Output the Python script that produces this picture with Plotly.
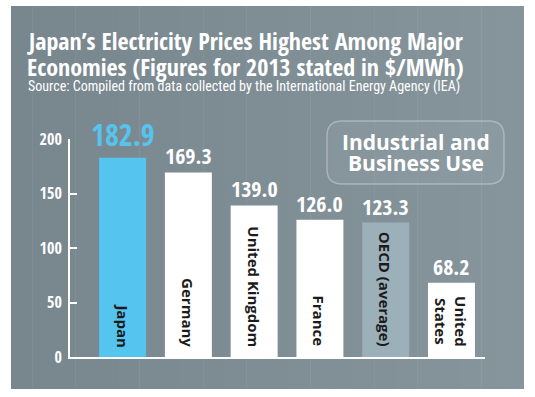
import plotly.graph_objects as go

# ---- data ----
categories = ["Japan", "Germany", "United Kingdom", "France", "OECD (average)", "United<br>States"]
values = [182.9, 169.3, 139.0, 126.0, 123.3, 68.2]
value_labels = ["182.9", "169.3", "139.0", "126.0", "123.3", "68.2"]
y_ticks = [0, 50, 100, 150, 200]

title_line1 = "Japan’s Electricity Prices Highest Among Major"
title_line2 = "Economies (Figures for 2013 stated in $/MWh)"
subtitle = "Source: Compiled from data collected by the International Energy Agency (IEA)"
box_line1 = "Industrial and"
box_line2 = "Business Use"

# ---- styles ----
W, H = 535, 397
COND = "Open Sans Condensed, Roboto Condensed, sans-serif"
COND_REG = "Roboto Condensed, Open Sans Condensed, sans-serif"
WIDE = "Open Sans, Roboto, sans-serif"
BLUE = "#55c4ef"
BAR_COLORS = [BLUE, "#ffffff", "#ffffff", "#ffffff", "#9cb0ba", "#ffffff"]
VALUE_COLORS = [BLUE, "white", "white", "white", "white", "white"]
VALUE_SIZES = [30, 22, 22, 22, 22, 22]
VALUE_SHIFT = [1, 0, 0, 0, 0, 0]

def px(x):
    return x / W

def py(y):
    return 1 - y / H

xs = list(range(len(categories)))

fig = go.Figure()
fig.add_trace(go.Bar(
    x=xs, y=values,
    marker=dict(color=BAR_COLORS, line=dict(width=0)),
    width=0.714,
    hoverinfo="skip",
))

shapes = []
# background panel with subtle horizontal gradient
n = 24
x0p, x1p = 11, 524
c0 = (120, 134, 142)
c1 = (134, 149, 156)
for i in range(n):
    t = i / (n - 1)
    col = tuple(round(c0[k] + (c1[k] - c0[k]) * t) for k in range(3))
    xa = x0p + (x1p - x0p) * i / n
    xb = x0p + (x1p - x0p) * (i + 1) / n + 0.5
    shapes.append(dict(type="rect", xref="paper", yref="paper", layer="below",
                       x0=px(xa), x1=px(min(xb, x1p)), y0=py(389), y1=py(6),
                       fillcolor="rgb(%d,%d,%d)" % col, line=dict(width=0)))

# rounded box
bx0, bx1, by0, by1, r = 327, 504, 121, 184, 15
def P(x, y):
    return "%.5f,%.5f" % (px(x), py(y))
path = ("M " + P(bx0 + r, by0) + " L " + P(bx1 - r, by0) + " Q " + P(bx1, by0) + " " + P(bx1, by0 + r) +
        " L " + P(bx1, by1 - r) + " Q " + P(bx1, by1) + " " + P(bx1 - r, by1) +
        " L " + P(bx0 + r, by1) + " Q " + P(bx0, by1) + " " + P(bx0, by1 - r) +
        " L " + P(bx0, by0 + r) + " Q " + P(bx0, by0) + " " + P(bx0 + r, by0) + " Z")
shapes.append(dict(type="path", xref="paper", yref="paper", path=path, layer="below",
                   fillcolor="rgba(255,255,255,0.05)", line=dict(color="rgba(205,215,220,0.5)", width=1.5)))

annotations = []
def txt(text, x, y, size, family, xanchor="left", color="white"):
    return dict(text=text, xref="paper", yref="paper", x=px(x), y=py(y), xanchor=xanchor,
                yanchor="middle", showarrow=False, font=dict(family=family, size=size, color=color))

annotations.append(txt("<b>" + title_line1 + "</b>", 25, 40, 24, COND))
annotations.append(txt("<b>" + title_line2 + "</b>", 25, 66, 24, COND))
annotations.append(txt(subtitle, 26, 87, 14, COND_REG))
annotations.append(txt("<b>" + box_line1 + "</b>", (bx0 + bx1) / 2, 142, 21, WIDE, "center"))
annotations.append(txt("<b>" + box_line2 + "</b>", (bx0 + bx1) / 2, 163, 21, WIDE, "center"))

for i, (c, v, lab) in enumerate(zip(categories, values, value_labels)):
    annotations.append(dict(text="<b>" + lab + "</b>", x=xs[i], y=v, xref="x", yref="y",
                            xanchor="center", yanchor="bottom", yshift=VALUE_SHIFT[i], showarrow=False,
                            font=dict(family=COND, size=VALUE_SIZES[i], color=VALUE_COLORS[i])))
    annotations.append(dict(text="<b>" + c + "</b>", x=xs[i], y=0, xref="x", yref="y",
                            xanchor="center", yanchor="bottom", yshift=8, textangle=90, showarrow=False,
                            font=dict(family=WIDE, size=15, color="#1b1b1b")))

fig.update_layout(
    width=W, height=H,
    margin=dict(l=0, r=0, t=0, b=0, pad=0, autoexpand=False),
    paper_bgcolor="white",
    plot_bgcolor="rgba(0,0,0,0)",
    showlegend=False,
    shapes=shapes,
    annotations=annotations,
    xaxis=dict(domain=[px(70), px(485)], range=[-0.8, 5.51], showgrid=False, zeroline=False,
               showline=True, linecolor="white", linewidth=2, showticklabels=False, ticks="",
               fixedrange=True, automargin=False),
    yaxis=dict(domain=[py(357), py(139)], range=[0, 200], tickvals=y_ticks, showgrid=False,
               zeroline=False, showline=True, linecolor="white", linewidth=2, ticks="inside",
               ticklen=7, tickwidth=2, tickcolor="white", ticklabelstandoff=3,
               tickfont=dict(family=COND, size=16, color="white", weight="bold"),
               fixedrange=True, automargin=False),
)

fig.write_html("out.html", config={"displayModeBar": False},
               post_script="document.body.style.margin='0';")
